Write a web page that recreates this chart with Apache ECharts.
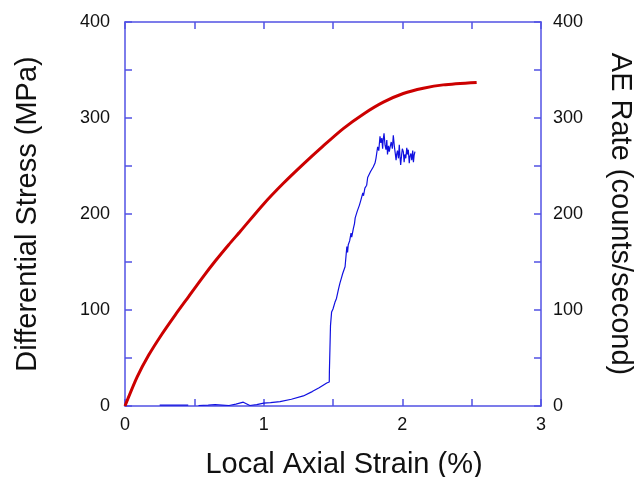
<!DOCTYPE html>
<html>
<head>
<meta charset="utf-8">
<script src="https://cdn.jsdelivr.net/npm/echarts@6/dist/echarts.min.js"></script>
<style>
  html, body { margin: 0; padding: 0; background: #fff; }
  #chart { width: 638px; height: 477px; }
</style>
</head>
<body>
<div id="chart"></div>
<script>
// Stress–strain curve (left axis)
const stressStrain = [0, 0.087, 0.171, 0.267, 0.363, 0.459, 0.555, 0.651, 0.748, 0.832, 0.997, 1.142, 1.286, 1.43, 1.574, 1.718, 1.863, 2.007, 2.151, 2.295, 2.536];
const stressValues = [0, 30, 53, 75, 95, 114, 133, 151, 168, 182, 210, 232, 252, 271, 289, 304, 316.5, 325.5, 331, 334.5, 337];

// Acoustic emission rate (right axis); null marks a gap in the record
const aeStrain = [0.25, 0.30, 0.35, 0.40, 0.456, 0.49, 0.53, 0.6, 0.65, 0.7, 0.75, 0.80, 0.853, 0.9, 0.95, 1.0, 1.05, 1.118, 1.2, 1.286, 1.35, 1.40, 1.455, 1.473, 1.474, 1.478, 1.482, 1.49, 1.50, 1.505, 1.514, 1.525, 1.53, 1.54, 1.55, 1.56, 1.57, 1.575, 1.587, 1.595, 1.60, 1.605, 1.61, 1.62, 1.63, 1.635, 1.647, 1.655, 1.66, 1.668, 1.675, 1.69, 1.70, 1.707, 1.715, 1.72, 1.73, 1.743, 1.75, 1.76, 1.77, 1.779, 1.79, 1.795, 1.803, 1.81, 1.815, 1.822, 1.83, 1.839, 1.845, 1.852, 1.858, 1.862, 1.868, 1.875, 1.882, 1.888, 1.893, 1.9, 1.906, 1.912, 1.92, 1.928, 1.935, 1.942, 1.95, 1.955, 1.959, 1.965, 1.972, 1.978, 1.983, 1.988, 1.995, 2.0, 2.007, 2.013, 2.018, 2.025, 2.032, 2.037, 2.043, 2.05, 2.055, 2.062, 2.068, 2.075, 2.08, 2.085, 2.091];
const aeRate = [1, 1, 1, 1, 1, null, 0.5, 1, 1.5, 1, 0.5, 2, 4, 0.5, 1.5, 3, 3.5, 4.5, 7, 10.5, 15, 19, 24, 25, 36, 60, 84, 98, 101, 100, 108, 112, 110, 122, 128, 133, 138, 136, 145, 158, 166, 160, 168, 172, 180, 176, 185, 190, 196, 194, 203, 209, 214, 216, 222, 219, 227, 230, 238, 236, 244, 242, 249, 247, 253, 258, 263, 270, 266, 281, 274, 279, 268, 277, 284, 272, 267, 277, 262, 271, 265, 270, 275, 268, 282, 271, 262, 256, 262, 266, 258, 272, 260, 251, 262, 268, 265, 254, 262, 258, 269, 262, 267, 253, 260, 263, 256, 266, 254, 261, 265];

// Axis settings
const strainMin = 0, strainMax = 3, strainTickStep = 0.5;
const leftMin = 0, leftMax = 400, rightMin = 0, rightMax = 400, yTickStep = 50;

const frameColor = '#5252e4';
const fontFamily = '"Liberation Sans", Arial, Helvetica, sans-serif';

const stressData = stressStrain.map((x, i) => [x, stressValues[i]]);
const aeData = aeStrain.map((x, i) => [x, aeRate[i] === null ? '-' : aeRate[i]]);

const tickCommon = { show: true, inside: true, length: 7, lineStyle: { color: frameColor, width: 1.5 } };
const lineCommon = { show: true, onZero: false, lineStyle: { color: frameColor, width: 1.5 } };
const labelStyle = { color: '#111', fontSize: 18, fontFamily: fontFamily };
const nameStyle = { color: '#111', fontSize: 29, fontFamily: fontFamily };

const chart = echarts.init(document.getElementById('chart'), null, { renderer: 'canvas' });
chart.setOption({
  animation: false,
  backgroundColor: '#ffffff',
  grid: { left: 125, right: 97, top: 22, bottom: 71, containLabel: false, outerBoundsMode: 'none' },
  xAxis: [
    {
      type: 'value', position: 'bottom', min: strainMin, max: strainMax, interval: strainTickStep,
      axisLine: lineCommon, axisTick: tickCommon, splitLine: { show: false },
      axisLabel: Object.assign({ margin: 10, formatter: v => (Math.abs(v - Math.round(v)) < 1e-9 ? String(Math.round(v)) : '') }, labelStyle),
      name: 'Local Axial Strain (%)', nameLocation: 'middle', nameGap: 44,
      nameTextStyle: Object.assign({ padding: [0, 0, 0, 22] }, nameStyle)
    },
    {
      type: 'value', position: 'top', min: strainMin, max: strainMax, interval: strainTickStep,
      axisLine: lineCommon, axisTick: tickCommon, splitLine: { show: false }, axisLabel: { show: false }
    }
  ],
  yAxis: [
    {
      type: 'value', position: 'left', min: leftMin, max: leftMax, interval: yTickStep,
      axisLine: lineCommon, axisTick: tickCommon, splitLine: { show: false },
      axisLabel: Object.assign({ margin: 15, formatter: v => (v % 100 === 0 ? String(v) : '') }, labelStyle),
      name: 'Differential Stress (MPa)', nameLocation: 'middle', nameGap: 83, nameRotate: 90, nameTextStyle: nameStyle
    },
    {
      type: 'value', position: 'right', min: rightMin, max: rightMax, interval: yTickStep,
      axisLine: lineCommon, axisTick: tickCommon, splitLine: { show: false },
      axisLabel: Object.assign({ margin: 12, formatter: v => (v % 100 === 0 ? String(v) : '') }, labelStyle),
      name: 'AE Rate (counts/second)', nameLocation: 'middle', nameGap: 64, nameRotate: -90, nameTextStyle: nameStyle
    }
  ],
  series: [
    {
      name: 'Differential Stress', type: 'line', xAxisIndex: 0, yAxisIndex: 0,
      data: stressData, showSymbol: false, smooth: 0.25,
      lineStyle: { color: '#cc0000', width: 3 }, z: 3
    },
    {
      name: 'AE Rate', type: 'line', xAxisIndex: 0, yAxisIndex: 1,
      data: aeData, showSymbol: false, connectNulls: false,
      lineStyle: { color: '#1010e0', width: 1.2 }, z: 2
    }
  ]
});
</script>
</body>
</html>
